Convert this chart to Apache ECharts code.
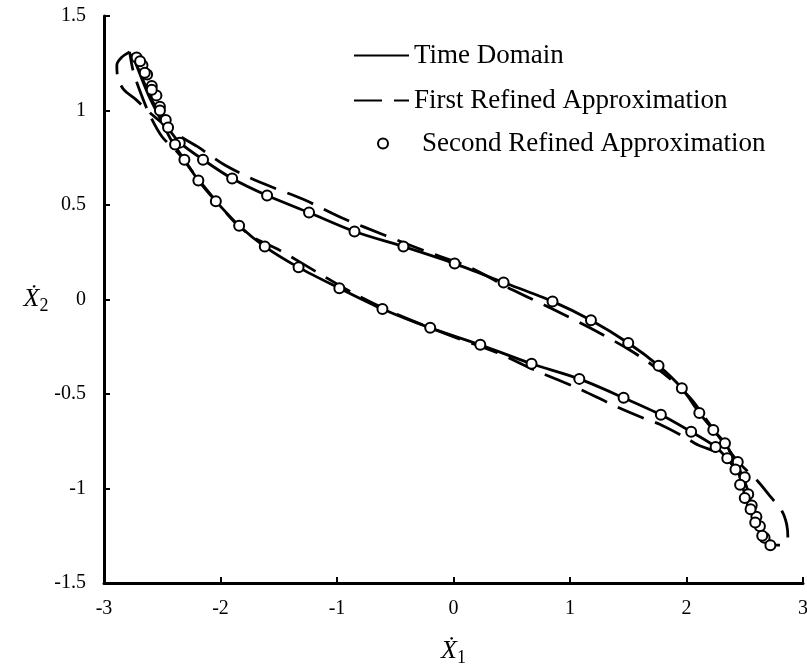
<!DOCTYPE html>
<html>
<head>
<meta charset="utf-8">
<script src="https://cdn.jsdelivr.net/npm/echarts@6/dist/echarts.min.js"></script>
<style>
  html, body { margin: 0; padding: 0; background: #fff; }
  #chart { width: 807px; height: 671px; }
</style>
</head>
<body>
<div id="chart"></div>
<script>
// Phase portrait: velocity of DOF 1 vs velocity of DOF 2, one steady-state cycle.
const xTicks = [-3, -2, -1, 0, 1, 2, 3];
const yTicks = [-1.5, -1, -0.5, 0, 0.5, 1, 1.5];

const seriesNames = ['Time Domain', 'First Refined Approximation', 'Second Refined Approximation'];

// Time-domain integration, traced around the closed orbit
const timeX = [-2.76, -2.69, -2.61, -2.52, -2.43, -2.35, -2.15, -1.90, -1.60, -1.24, -0.85, -0.43, 0.01, 0.43, 0.85, 1.18, 1.50, 1.76, 1.96, 2.11, 2.23, 2.33, 2.44, 2.51, 2.56, 2.61, 2.67, 2.74,
               2.67, 2.61, 2.55, 2.49, 2.44, 2.36, 2.25, 2.04, 1.78, 1.46, 1.08, 0.67, 0.23, -0.20, -0.61, -0.98, -1.33, -1.62, -1.84, -2.04, -2.19, -2.31, -2.42, -2.52, -2.61, -2.69, -2.76];
const timeY = [1.30, 1.20, 1.08, 0.98, 0.89, 0.83, 0.74, 0.64, 0.55, 0.46, 0.36, 0.28, 0.19, 0.09, -0.01, -0.11, -0.23, -0.35, -0.47, -0.60, -0.69, -0.76, -0.88, -0.98, -1.09, -1.17, -1.25, -1.31,
               -1.26, -1.19, -1.10, -1.01, -0.91, -0.85, -0.78, -0.70, -0.61, -0.52, -0.42, -0.34, -0.24, -0.15, -0.05, 0.06, 0.17, 0.28, 0.39, 0.52, 0.63, 0.74, 0.84, 0.96, 1.07, 1.19, 1.30];

// First refined harmonic approximation
const firstX = [-2.78, -2.85, -2.89, -2.88, -2.83, -2.73, -2.61, -2.39, -2.20, -1.96, -1.66, -1.29, -0.95, -0.59, -0.26, 0.14, 0.51, 0.85, 1.17, 1.52, 1.80, 2.03, 2.20, 2.33, 2.46, 2.61, 2.73, 2.82, 2.86, 2.87, 2.81, 2.73,
                2.67, 2.63, 2.56, 2.50, 2.44, 2.30, 2.10, 1.99, 1.77, 1.64, 1.41, 1.07, 0.72, 0.37, -0.03, -0.48, -0.82, -1.16, -1.49, -1.72, -1.88, -2.05, -2.22, -2.37, -2.50, -2.61, -2.69, -2.75, -2.78];
const firstY = [1.31, 1.28, 1.24, 1.17, 1.11, 1.06, 0.99, 0.88, 0.81, 0.71, 0.62, 0.53, 0.43, 0.34, 0.26, 0.17, 0.05, -0.05, -0.15, -0.27, -0.39, -0.52, -0.66, -0.77, -0.87, -0.96, -1.05, -1.12, -1.19, -1.26, -1.30, -1.30,
                -1.26, -1.19, -1.09, -0.99, -0.91, -0.82, -0.77, -0.73, -0.66, -0.63, -0.57, -0.47, -0.38, -0.28, -0.19, -0.08, 0.02, 0.14, 0.26, 0.33, 0.41, 0.53, 0.66, 0.78, 0.86, 0.98, 1.10, 1.21, 1.31];

// Second refined harmonic approximation, sampled points
const secondX = [-2.72, -2.67, -2.63, -2.59, -2.55, -2.52, -2.47, -2.35, -2.15, -1.90, -1.60, -1.24, -0.85, -0.43, 0.01, 0.43, 0.85, 1.18, 1.50, 1.76, 1.96, 2.11, 2.23, 2.33, 2.44, 2.50, 2.53, 2.56, 2.60, 2.63, 2.67,
                 2.72, 2.65, 2.59, 2.55, 2.50, 2.46, 2.42, 2.35, 2.25, 2.04, 1.78, 1.46, 1.08, 0.67, 0.23, -0.20, -0.61, -0.98, -1.33, -1.62, -1.84, -2.04, -2.19, -2.31, -2.39, -2.45, -2.52, -2.59, -2.65, -2.69];
const secondY = [1.28, 1.24, 1.19, 1.13, 1.08, 1.02, 0.95, 0.83, 0.74, 0.64, 0.55, 0.46, 0.36, 0.28, 0.19, 0.09, -0.01, -0.11, -0.23, -0.35, -0.47, -0.60, -0.69, -0.76, -0.86, -0.94, -1.03, -1.09, -1.15, -1.20, -1.26,
                 -1.30, -1.25, -1.18, -1.11, -1.05, -0.98, -0.90, -0.84, -0.78, -0.70, -0.61, -0.52, -0.42, -0.34, -0.24, -0.15, -0.05, 0.06, 0.17, 0.28, 0.39, 0.52, 0.63, 0.74, 0.82, 0.91, 1.00, 1.11, 1.20, 1.26];

const pairs = (xs, ys) => xs.map((x, i) => [x, ys[i]]);

const serif = 'Liberation Serif';
const axisCommon = {
  type: 'value',
  axisLine: { show: true, onZero: false, lineStyle: { color: '#000', width: 3 } },
  axisTick: { show: true, inside: true, length: 6, lineStyle: { color: '#000', width: 2 } },
  splitLine: { show: false },
  axisLabel: { color: '#000', fontFamily: serif, fontSize: 20 }
};

const legendText = { color: '#000', fontFamily: serif, fontSize: 27 };
const lineLegend = {
  orient: 'vertical', padding: 0, itemWidth: 55, itemHeight: 14,
  selectedMode: false,
  itemStyle: { opacity: 0 },
  textStyle: legendText
};

const markerStyle = { color: '#fff', borderColor: '#000', borderWidth: 2, opacity: 1 };

const axisNameRich = {
  v: { fontFamily: serif, fontStyle: 'italic', fontSize: 26, color: '#000' },
  s: { fontFamily: serif, fontSize: 18, color: '#000', padding: [14, 0, 0, 0] }
};

const chart = echarts.init(document.getElementById('chart'), null, { renderer: 'canvas' });
chart.setOption({
  animation: false,
  backgroundColor: '#fff',
  grid: { left: 104, right: 4, top: 16, bottom: 88, containLabel: false, outerBoundsMode: 'none' },
  legend: [
    Object.assign({}, lineLegend, { data: [seriesNames[0]], left: 353, top: 42 }),
    Object.assign({}, lineLegend, { data: [seriesNames[1]], left: 353, top: 87 }),
    {
      orient: 'vertical', padding: 0, itemWidth: 10, itemHeight: 10, selectedMode: false,
      data: [{ name: seriesNames[2], icon: 'circle' }], left: 377, top: 130,
      itemStyle: markerStyle,
      textStyle: Object.assign({}, legendText, { padding: [0, 0, 0, 29] })
    }
  ],
  xAxis: Object.assign({}, axisCommon, {
    min: xTicks[0], max: xTicks[xTicks.length - 1], interval: 1,
    axisLabel: Object.assign({}, axisCommon.axisLabel, { margin: 16 }),
    name: '{v|Ẋ}{s|1}', nameLocation: 'middle', nameGap: 52,
    nameTextStyle: { rich: axisNameRich }
  }),
  yAxis: Object.assign({}, axisCommon, {
    min: yTicks[0], max: yTicks[yTicks.length - 1], interval: 0.5,
    axisLabel: Object.assign({}, axisCommon.axisLabel, { margin: 18 }),
    name: '{v|Ẋ}{s|2}', nameLocation: 'middle', nameGap: 43, nameRotate: 0,
    nameTextStyle: { rich: axisNameRich }
  }),
  series: [
    {
      name: seriesNames[0], type: 'line', data: pairs(timeX, timeY),
      showSymbol: false, symbol: 'none', smooth: 0.3,
      lineStyle: { color: '#000', width: 2.8 }, itemStyle: { color: '#000' }, z: 3
    },
    {
      name: seriesNames[1], type: 'line', data: pairs(firstX, firstY),
      showSymbol: false, symbol: 'none', smooth: 0.3,
      lineStyle: { color: '#000', width: 2.8, type: [28, 12] }, itemStyle: { color: '#000' }, z: 2
    },
    {
      name: seriesNames[2], type: 'scatter', data: pairs(secondX, secondY),
      symbol: 'circle', symbolSize: 10,
      itemStyle: markerStyle, z: 4
    }
  ]
});
</script>
</body>
</html>
